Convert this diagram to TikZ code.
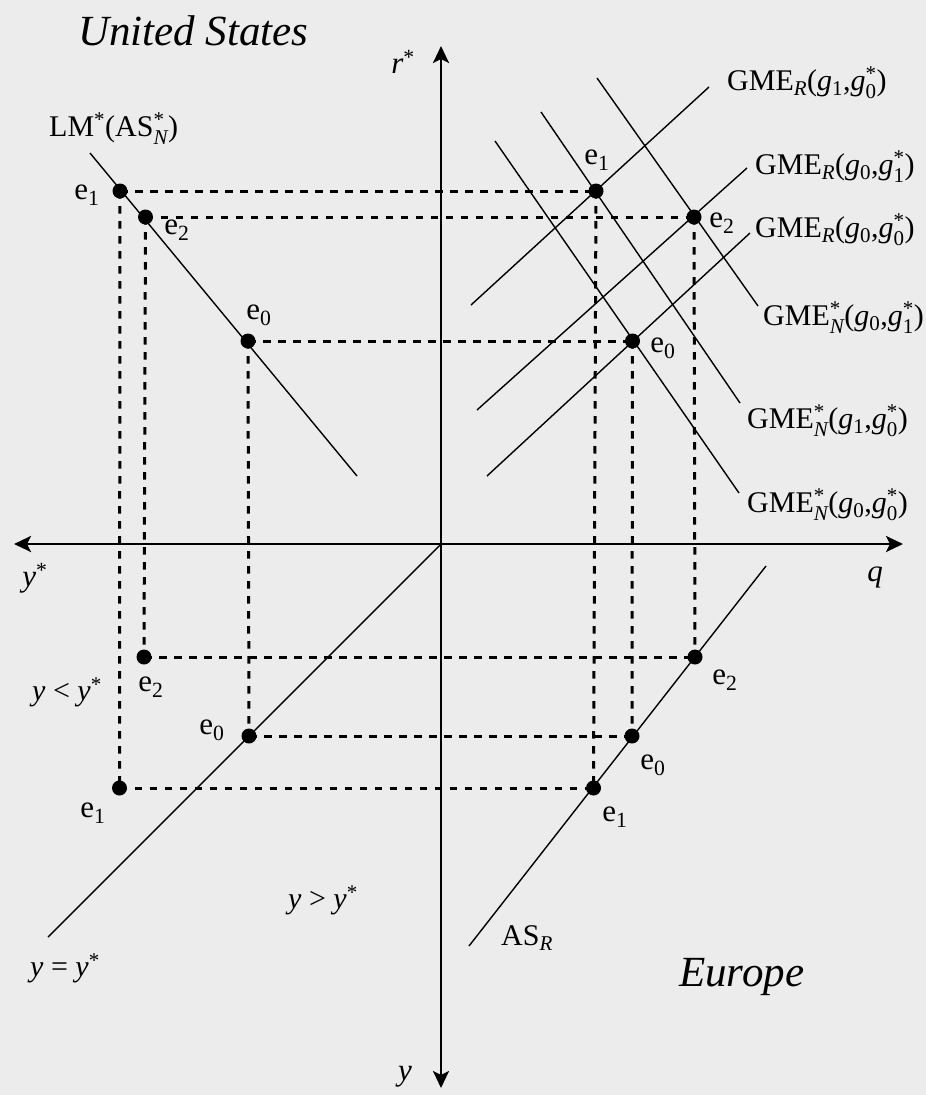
\documentclass[tikz,border=0pt]{standalone}
\usepackage{amsmath}
\usepackage{fontspec}
\setmainfont{Liberation Serif}
\usetikzlibrary{arrows.meta}
\definecolor{bgc}{RGB}{236,236,236}
\newcommand{\ept}[1]{e$_{\text{#1}}$}
\newcommand{\gmeR}[2]{GME$_{\text{\itshape R}}$(\textit{g}$_{\text{#1}}$,\textit{g}$^{\text{*}}_{\text{#2}}$)}
\newcommand{\gmeN}[2]{GME$^{\text{*}}_{\text{\itshape N}}$(\textit{g}$_{\text{#1}}$,\textit{g}$^{\text{*}}_{\text{#2}}$)}
\newcommand{\ystar}{\textit{y}$^{\text{*}}$}
\begin{document}
\begin{tikzpicture}[x=1pt,y=-1pt,
  axis/.style={line width=2.8pt, {Stealth[length=17pt,width=16pt,inset=4pt]}-{Stealth[length=17pt,width=16pt,inset=4pt]}},
  curve/.style={line width=1.4pt},
  guide/.style={line width=3pt, dash pattern=on 7.5pt off 7.5pt},
  dot/.style={circle, fill=black, inner sep=0pt, minimum size=15pt},
  lbl/.style={inner sep=0pt, font=\fontsize{30}{36}\selectfont},
  elbl/.style={inner sep=0pt, font=\fontsize{31}{37}\selectfont},
  ttl/.style={inner sep=0pt, font=\fontsize{43}{50}\selectfont\itshape}]
\fill[bgc] (0,0) rectangle (926,1095);
\useasboundingbox (0,0) rectangle (926,1095);

% axes
\coordinate (O) at (441,544);
\coordinate (T) at (441,46);
\coordinate (B) at (441,1088);
\coordinate (L) at (14,544);
\coordinate (R) at (903,544);
\draw[axis] (L) -- (R);
\draw[axis] (T) -- (B);

% equilibrium dots
\node[dot] (u1) at (120,191) {};
\node[dot] (u2) at (145.5,217) {};
\node[dot] (u0) at (248,341) {};
\node[dot] (n1) at (596,191) {};
\node[dot] (n2) at (694,217) {};
\node[dot] (n0) at (632.5,341) {};
\node[dot] (s2) at (144,657) {};
\node[dot] (s0) at (249,736) {};
\node[dot] (s1) at (119.5,788) {};
\node[dot] (r2) at (695,657) {};
\node[dot] (r0) at (632,736) {};
\node[dot] (r1) at (593.5,788) {};

% dashed guides
\draw[guide] (u1.center) -- (n1.center);
\draw[guide] (u2.center) -- (n2.center);
\draw[guide] (u0.center) -- (n0.center);
\draw[guide] (s2.center) -- (r2.center);
\draw[guide] (s0.center) -- (r0.center);
\draw[guide] (s1.center) -- (r1.center);
\draw[guide] (u1.center) -- (s1.center);
\draw[guide] (u2.center) -- (s2.center);
\draw[guide] (u0.center) -- (s0.center);
\draw[guide] (n1.center) -- (r1.center);
\draw[guide] (n2.center) -- (r2.center);
\draw[guide] (n0.center) -- (r0.center);

% curves
\coordinate (lmA) at (90,153);   \coordinate (lmB) at (357,476);
\coordinate (dgB) at (48,937);
\coordinate (asA) at (469,946);  \coordinate (asB) at (766,566);
\coordinate (ra1) at (471,305);  \coordinate (rb1) at (709,87);
\coordinate (ra2) at (477,410);  \coordinate (rb2) at (747,168);
\coordinate (ra3) at (487,476);  \coordinate (rb3) at (750,233);
\coordinate (na1) at (597,78);   \coordinate (nb1) at (758,306);
\coordinate (na2) at (541,112);  \coordinate (nb2) at (740,403);
\coordinate (na3) at (495,141);  \coordinate (nb3) at (739,493);
\draw[curve] (lmA) -- (lmB);
\draw[curve] (O) -- (dgB);
\draw[curve] (asA) -- (asB);
\draw[curve] (ra1) -- (rb1);
\draw[curve] (ra2) -- (rb2);
\draw[curve] (ra3) -- (rb3);
\draw[curve] (na1) -- (nb1);
\draw[curve] (na2) -- (nb2);
\draw[curve] (na3) -- (nb3);

% curve labels
\node[lbl, anchor=base west] (g1) at (727,90) {\gmeR{1}{0}};
\node[lbl, anchor=base west] (g2) at (755,174) {\gmeR{0}{1}};
\node[lbl, anchor=base west] (g3) at (755,237) {\gmeR{0}{0}};
\node[lbl, anchor=base west] (g4) at (763,325) {\gmeN{0}{1}};
\node[lbl, anchor=base west] (g5) at (747,428) {\gmeN{1}{0}};
\node[lbl, anchor=base west] (g6) at (747,512) {\gmeN{0}{0}};
\node[lbl, anchor=base west] (lm) at (49,136) {LM$^{\text{*}}$(AS$^{\text{*}}_{\text{\itshape N}}$)};
\node[lbl, anchor=base west] (asr) at (501,945) {AS$_{\text{\itshape R}}$};

% axis and region labels
\node[elbl] (rl) at (403,62) {\textit{r}$^{\text{*}}$};
\node[elbl] (ysl) at (35,578) {\ystar};
\node[elbl] (ql) at (875,577) {\textit{q}};
\node[elbl] (yl) at (405,1077) {\textit{y}};
\node[lbl] (lt) at (67,692) {\textit{y} < \ystar};
\node[lbl] (gt) at (323,900) {\textit{y} > \ystar};
\node[lbl] (eq) at (65,968) {\textit{y} = \ystar};

% titles
\node[ttl, anchor=base west] (us) at (78,45) {United States};
\node[ttl, anchor=base west] (eu) at (679,986) {Europe};

% point labels
\node[elbl] (lu1) at (87,195) {\ept{1}};
\node[elbl] (lu2) at (177,230) {\ept{2}};
\node[elbl] (lu0) at (259,315) {\ept{0}};
\node[elbl] (ln1) at (597,160) {\ept{1}};
\node[elbl] (ln2) at (722,223) {\ept{2}};
\node[elbl] (ln0) at (663,348) {\ept{0}};
\node[elbl] (ls2) at (151,687) {\ept{2}};
\node[elbl] (ls0) at (212,730) {\ept{0}};
\node[elbl] (ls1) at (93,813) {\ept{1}};
\node[elbl] (lr2) at (725,680) {\ept{2}};
\node[elbl] (lr0) at (653,765) {\ept{0}};
\node[elbl] (lr1) at (615,817) {\ept{1}};
\end{tikzpicture}
\end{document}
